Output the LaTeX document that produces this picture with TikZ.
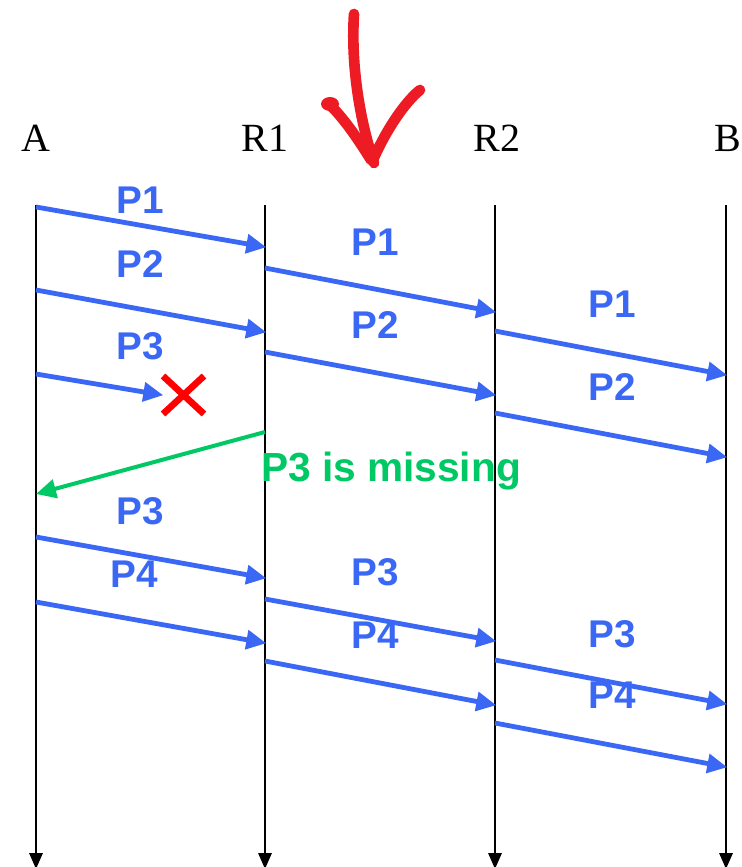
\documentclass[tikz,border=0pt]{standalone}
\usepackage{fontspec}
\setmainfont{Liberation Serif}
\newfontfamily\lblfont{Liberation Sans}
\usetikzlibrary{arrows.meta}
\definecolor{msgblue}{RGB}{58,104,245}
\definecolor{missgreen}{RGB}{0,200,100}
\definecolor{penred}{RGB}{237,28,36}
\tikzset{
  life/.style={line width=1.6pt, -{Triangle[length=12pt,width=10pt]}},
  msg/.style={draw=msgblue, line width=3.6pt, -{Triangle[length=15pt,width=14pt]}, shorten >=-1pt},
  nack/.style={draw=missgreen, line width=3pt, -{Triangle[length=15pt,width=14pt]}},
  plabel/.style={text=msgblue, font=\lblfont\bfseries\fontsize{29}{29}\selectfont, inner sep=0pt},
  glabel/.style={text=missgreen, font=\lblfont\bfseries\fontsize{30.5}{30.5}\selectfont, inner sep=0pt},
  host/.style={font=\fontsize{30}{30}\selectfont, inner sep=0pt},
  pen/.style={draw=penred, line width=8pt, line cap=round, line join=round},
  cross/.style={draw=red, line width=5pt}
}
\begin{document}
\begin{tikzpicture}[x=0.75pt,y=-0.75pt]
\useasboundingbox (0,0) rectangle (742,867);
% hosts
\node[host] (hA) at (36,138) {A};
\node[host] (hR1) at (265,138) {R1};
\node[host] (hR2) at (497,138) {R2};
\node[host] (hB) at (728,138) {B};
% lifelines
\coordinate (tA) at (36,205);   \coordinate (bA) at (36,869);
\coordinate (tR1) at (265,205); \coordinate (bR1) at (265,869);
\coordinate (tR2) at (495,205); \coordinate (bR2) at (495,869);
\coordinate (tB) at (726,205);  \coordinate (bB) at (726,869);
\draw[life] (tA) -- (bA);
\draw[life] (tR1) -- (bR1);
\draw[life] (tR2) -- (bR2);
\draw[life] (tB) -- (bB);
% A -> R1
\coordinate (a1s) at (36,207);  \coordinate (a1e) at (265,247);
\coordinate (a2s) at (36,290);  \coordinate (a2e) at (265,332);
\coordinate (a3s) at (36,374);  \coordinate (a3e) at (162,395);
\coordinate (a4s) at (36,537);  \coordinate (a4e) at (265,578);
\coordinate (a5s) at (36,602);  \coordinate (a5e) at (265,643);
\draw[msg] (a1s) -- (a1e);
\draw[msg] (a2s) -- (a2e);
\draw[msg] (a3s) -- (a3e);
\draw[msg] (a4s) -- (a4e);
\draw[msg] (a5s) -- (a5e);
\node[plabel] (la1) at (140,200) {P1};
\node[plabel] (la2) at (140,264) {P2};
\node[plabel] (la3) at (140,346) {P3};
\node[plabel] (la4) at (140,511) {P3};
\node[plabel] (la5) at (134,574) {P4};
% lost packet
\coordinate (x1) at (163,376); \coordinate (x2) at (204,414);
\coordinate (x3) at (204,376); \coordinate (x4) at (163,414);
\draw[cross] (x1) -- (x2);
\draw[cross] (x3) -- (x4);
% nack
\coordinate (gs) at (265,432); \coordinate (ge) at (36,494);
\draw[nack] (gs) -- (ge);
\node[glabel] (gl) at (391,471) {P3 is missing};
% R1 -> R2
\coordinate (b1s) at (265,268); \coordinate (b1e) at (495,312);
\coordinate (b2s) at (265,352); \coordinate (b2e) at (495,395);
\coordinate (b3s) at (265,599); \coordinate (b3e) at (495,641);
\coordinate (b4s) at (265,661); \coordinate (b4e) at (495,705);
\draw[msg] (b1s) -- (b1e);
\draw[msg] (b2s) -- (b2e);
\draw[msg] (b3s) -- (b3e);
\draw[msg] (b4s) -- (b4e);
\node[plabel] (lb1) at (375,242) {P1};
\node[plabel] (lb2) at (375,325) {P2};
\node[plabel] (lb3) at (375,572) {P3};
\node[plabel] (lb4) at (375,635) {P4};
% R2 -> B
\coordinate (c1s) at (495,331); \coordinate (c1e) at (726,375);
\coordinate (c2s) at (495,413); \coordinate (c2e) at (726,457);
\coordinate (c3s) at (495,660); \coordinate (c3e) at (726,704);
\coordinate (c4s) at (495,723); \coordinate (c4e) at (726,767);
\draw[msg] (c1s) -- (c1e);
\draw[msg] (c2s) -- (c2e);
\draw[msg] (c3s) -- (c3e);
\draw[msg] (c4s) -- (c4e);
\node[plabel] (lc1) at (612,304) {P1};
\node[plabel] (lc2) at (612,387) {P2};
\node[plabel] (lc3) at (612,634) {P3};
\node[plabel] (lc4) at (612,695) {P4};
% hand-drawn red arrow
\draw[pen] (354,14) .. controls (351,60) and (358,115) .. (374,163);
\draw[pen] (332,107) .. controls (345,120) and (360,142) .. (371,160);
\draw[pen] (420,90) .. controls (405,102) and (386,130) .. (373,160);
\fill[penred] (330,104) ellipse (9 and 7);
\end{tikzpicture}
\end{document}
